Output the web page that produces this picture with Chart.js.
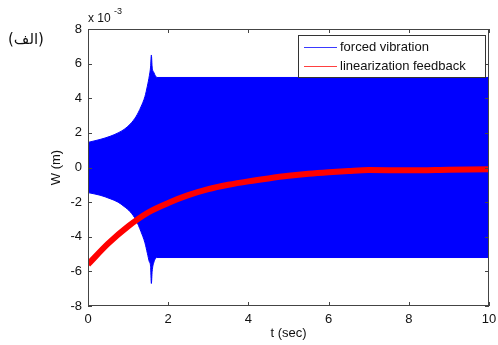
<!DOCTYPE html>
<html>
<head>
<meta charset="utf-8">
<script src="https://cdn.jsdelivr.net/npm/chart.js@4/dist/chart.umd.min.js"></script>
<style>
  html, body { margin: 0; padding: 0; background: #fff; }
  #wrap { width: 498px; height: 345px; }
</style>
</head>
<body>
<div id="wrap"><canvas id="chart" width="498" height="345"></canvas></div>
<script>
// values in units of 1e-3 m
const envTime  = [0, 0.3, 0.55, 0.75, 0.9, 1.05, 1.2, 1.32, 1.42, 1.48, 1.53, 1.56, 1.58, 1.6, 1.64, 1.72, 10];
const envUpper = [1.45, 1.62, 1.8, 2.0, 2.2, 2.5, 2.95, 3.5, 4.1, 4.7, 5.3, 5.8, 6.5, 5.8, 5.5, 5.2, 5.2];
const envLower = [-1.45, -1.6, -1.8, -2.0, -2.25, -2.55, -3.05, -3.7, -4.35, -4.95, -5.45, -5.7, -6.7, -6.0, -5.5, -5.2, -5.2];

const fbTime  = [0, 0.5, 1, 1.5, 2, 2.5, 3, 3.5, 4, 4.5, 5, 5.5, 6, 6.5, 7, 8, 9, 10];
const fbValue = [-5.6, -4.4, -3.4, -2.6, -2.05, -1.6, -1.25, -1.0, -0.8, -0.63, -0.48, -0.36, -0.27, -0.2, -0.15, -0.16, -0.13, -0.1];

const xTicks = [0, 2, 4, 6, 8, 10];
const yTicks = [-8, -6, -4, -2, 0, 2, 4, 6, 8];

const labels = ["forced vibration", "linearization feedback"];
const BLUE = "#0000ff";
const RED = "#ff0000";
const FONT = "'Liberation Sans', Arial, sans-serif";

const pts = (xs, ys) => xs.map((x, i) => ({ x: x, y: ys[i] }));

// box, inward ticks, legend and extra texts
const decor = {
    id: "decor",
    afterDatasetsDraw(chart) {
        const { ctx, chartArea: a, scales } = chart;
        ctx.save();
        ctx.strokeStyle = "#444";
        ctx.lineWidth = 1;
        ctx.strokeRect(a.left + 0.5, a.top + 0.5, a.right - a.left - 1, a.bottom - a.top - 1);
        ctx.beginPath();
        xTicks.forEach(v => {
            const px = Math.round(scales.x.getPixelForValue(v)) + 0.5;
            ctx.moveTo(px, a.bottom); ctx.lineTo(px, a.bottom - 4);
            ctx.moveTo(px, a.top); ctx.lineTo(px, a.top + 4);
        });
        yTicks.forEach(v => {
            const py = Math.round(scales.y.getPixelForValue(v)) + 0.5;
            ctx.moveTo(a.left, py); ctx.lineTo(a.left + 4, py);
            ctx.moveTo(a.right, py); ctx.lineTo(a.right - 4, py);
        });
        ctx.stroke();

        // legend
        ctx.fillStyle = "#fff";
        ctx.fillRect(298, 35, 187, 42);
        ctx.strokeStyle = "#333";
        ctx.strokeRect(298.5, 35.5, 187, 42);
        ctx.lineWidth = 1.2;
        ctx.strokeStyle = "#3a3aff";
        ctx.beginPath(); ctx.moveTo(304, 47.5); ctx.lineTo(337, 47.5); ctx.stroke();
        ctx.strokeStyle = "#ff4040";
        ctx.beginPath(); ctx.moveTo(304, 66.5); ctx.lineTo(337, 66.5); ctx.stroke();
        ctx.fillStyle = "#111";
        ctx.font = "13px " + FONT;
        ctx.textBaseline = "middle";
        ctx.textAlign = "left";
        ctx.fillText(labels[0], 340, 47);
        ctx.fillText(labels[1], 340, 66);

        // multiplier and panel label
        ctx.font = "12px " + FONT;
        ctx.fillText("x 10", 88, 19);
        ctx.font = "9px " + FONT;
        ctx.fillText("-3", 114, 12);
        ctx.font = "15px 'DejaVu Sans', sans-serif";
        ctx.fillText("(الف)", 8, 40);
        ctx.restore();
    }
};

new Chart(document.getElementById("chart"), {
    type: "line",
    data: {
        datasets: [
            {
                label: labels[0],
                data: pts(envTime, envUpper),
                borderColor: BLUE,
                backgroundColor: BLUE,
                borderWidth: 1,
                pointRadius: 0,
                fill: "+1",
                cubicInterpolationMode: "monotone",
                order: 2
            },
            {
                label: "_lower",
                data: pts(envTime, envLower),
                borderColor: BLUE,
                borderWidth: 1,
                pointRadius: 0,
                fill: false,
                cubicInterpolationMode: "monotone",
                order: 2
            },
            {
                label: labels[1],
                data: pts(fbTime, fbValue),
                borderColor: RED,
                borderWidth: 6,
                pointRadius: 0,
                fill: false,
                cubicInterpolationMode: "monotone",
                order: 0
            }
        ]
    },
    options: {
        responsive: false,
        animation: false,
        layout: { padding: { left: 45, right: 9, top: 29, bottom: 0 } },
        plugins: { legend: { display: false }, tooltip: { enabled: false } },
        scales: {
            x: {
                type: "linear",
                min: 0, max: 10,
                afterBuildTicks: s => { s.ticks = xTicks.map(v => ({ value: v })); },
                afterFit: s => { s.height = 39; s.paddingRight = 0; s.paddingLeft = 0; },
                grid: { display: false, drawTicks: false },
                border: { display: false },
                ticks: { padding: 6, color: "#111", font: { family: FONT, size: 13 } },
                title: { display: true, text: "t (sec)", color: "#111", font: { family: FONT, size: 13 } }
            },
            y: {
                type: "linear",
                min: -8, max: 8,
                afterBuildTicks: s => { s.ticks = yTicks.map(v => ({ value: v })); },
                afterFit: s => { s.width = 43; s.paddingTop = 0; s.paddingBottom = 0; },
                grid: { display: false, drawTicks: false },
                border: { display: false },
                ticks: { padding: 6, color: "#111", font: { family: FONT, size: 13 } },
                title: { display: true, text: "W (m)", color: "#111", font: { family: FONT, size: 13 } }
            }
        }
    },
    plugins: [decor]
});
</script>
</body>
</html>
